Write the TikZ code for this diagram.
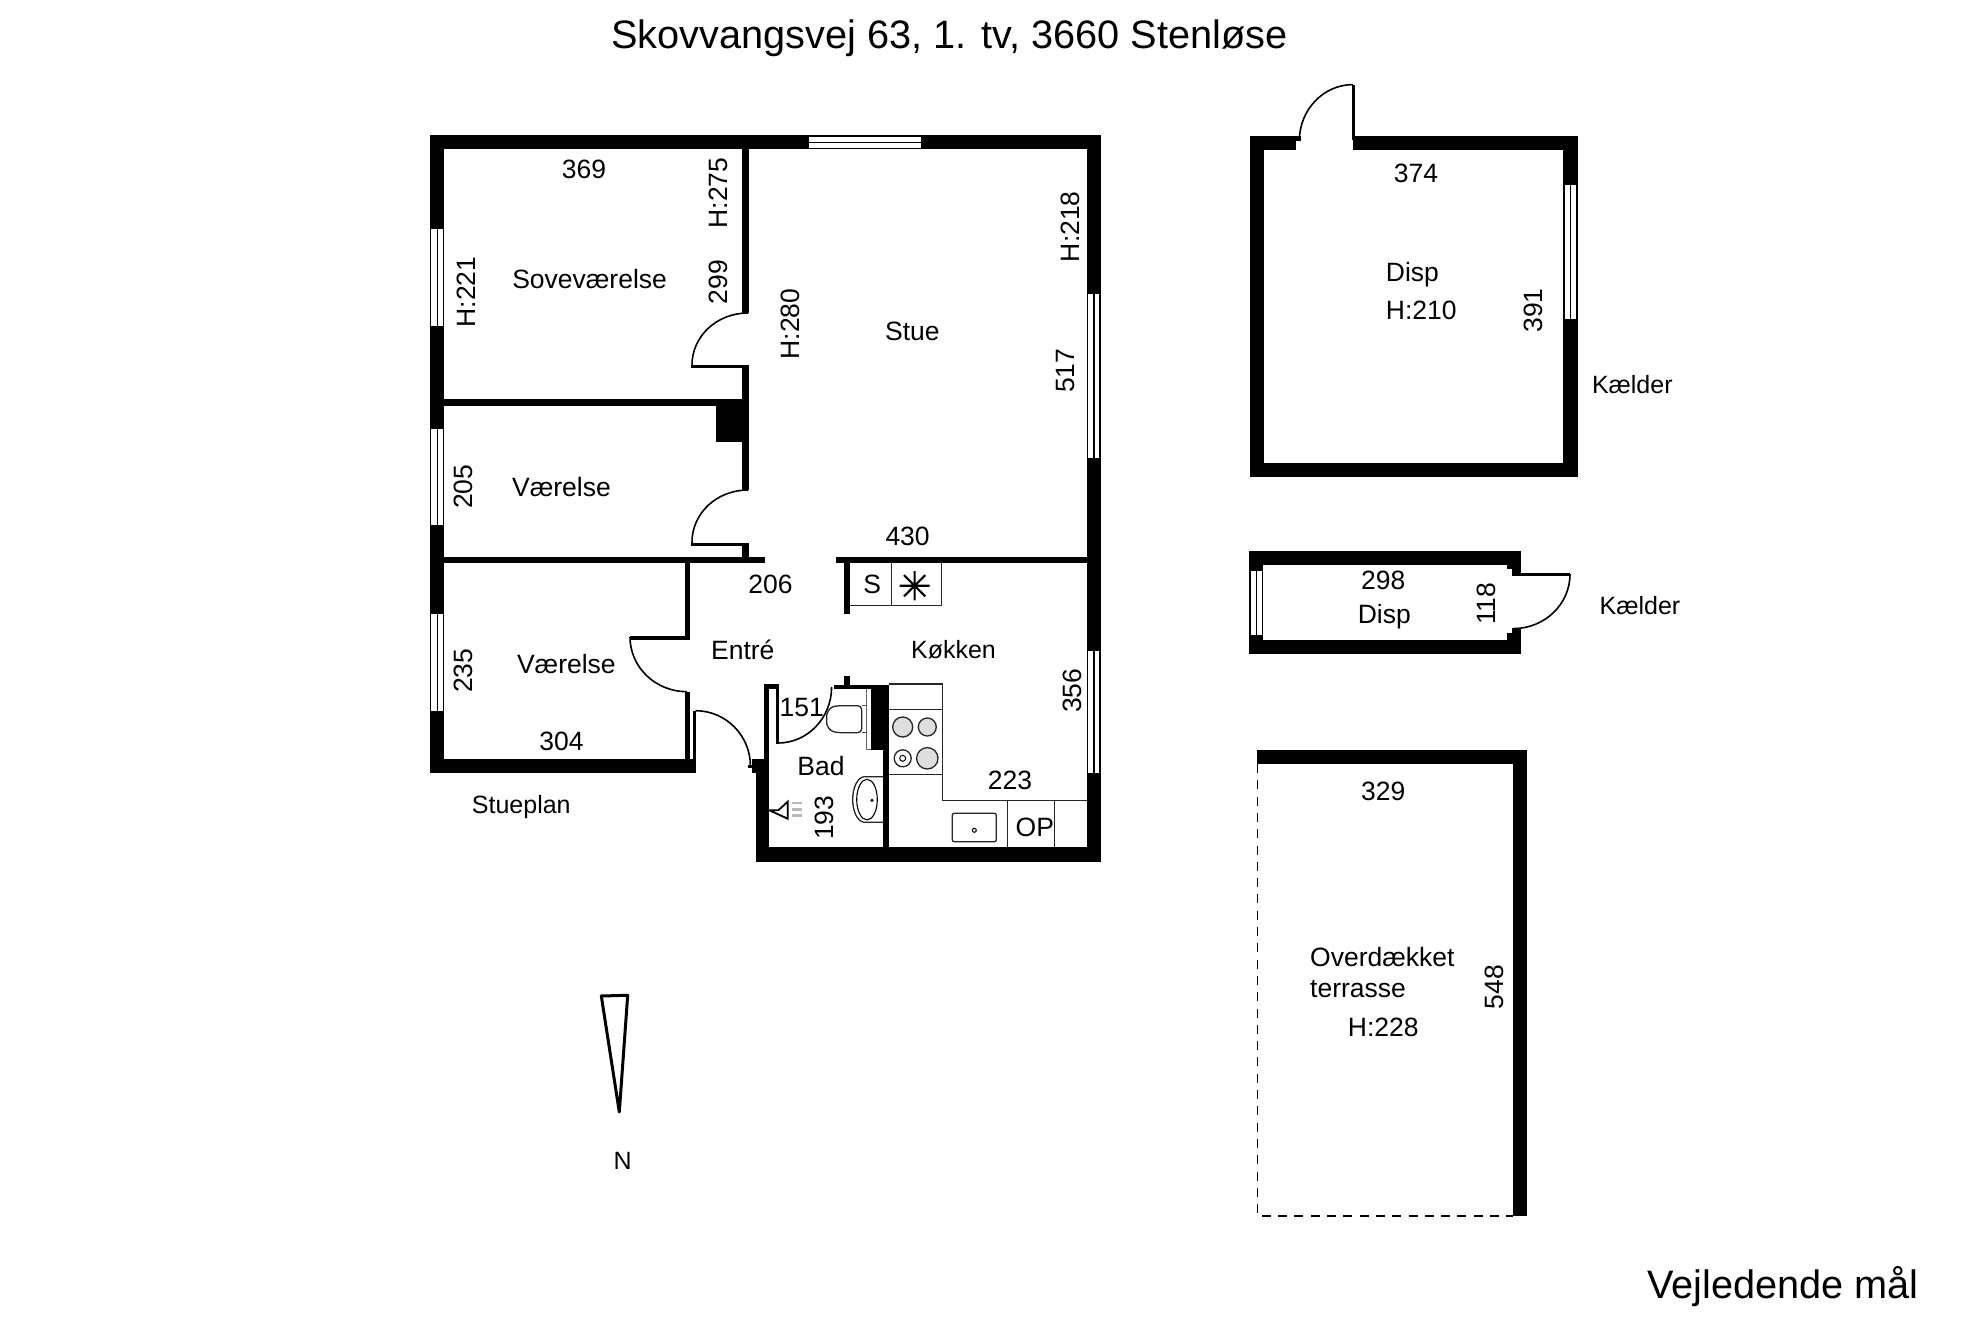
\documentclass[tikz,border=0pt]{standalone}
\usepackage{fontspec}
\setmainfont{Liberation Sans}
\usetikzlibrary{calc}
\newcommand{\wl}[4]{\fill[black] (#1,#2) rectangle (#3,#4);}
\newcommand{\winH}[4]{\fill[white] (#1,#2) rectangle (#3,#4);
  \draw[winline] (#1,#2) -- (#3,#2) (#1,{(#2+#4)/2}) -- (#3,{(#2+#4)/2}) (#1,#4) -- (#3,#4);}
\newcommand{\winV}[4]{\fill[white] (#1,#2) rectangle (#3,#4);
  \draw[winline] (#1,#2) -- (#1,#4) ({(#1+#3)/2},#2) -- ({(#1+#3)/2},#4) (#3,#2) -- (#3,#4);}
% door swing: from A to B, with the corner C between the tangents
\newcommand{\swing}[6]{\draw[doorline] (#1,#2) .. controls ($(#1,#2)!0.5523!(#3,#4)$) and ($(#5,#6)!0.5523!(#3,#4)$) .. (#5,#6);}
\tikzset{
  x=1pt,y=-1pt,
  winline/.style={line width=1.2pt,black},
  doorline/.style={line width=1.6pt,black},
  fix/.style={line width=1.3pt,black!85},
  lbl/.style={inner sep=0pt,font=\fontsize{26.5}{30}\selectfont},
  lblS/.style={inner sep=0pt,font=\fontsize{25}{30}\selectfont},
  big/.style={inner sep=0pt,font=\fontsize{39.7}{44}\selectfont},
  rt/.style={rotate=90}
}
\begin{document}
\begin{tikzpicture}
\useasboundingbox (0,0) rectangle (1982,1321);
\fill[white] (0,0) rectangle (1982,1321);

% ---- main flat: outer walls
\wl{429.8}{135}{1101}{149.5}
\wl{429.8}{135}{444.1}{773}
\wl{429.8}{759}{695.4}{773}
\wl{1087}{135}{1101}{861.7}
\wl{755.7}{847.3}{1101}{861.7}
\wl{755.7}{772}{769.3}{861.7}
\wl{752.3}{759}{769.3}{772.7}
\wl{748.3}{765}{753}{768.3}
% windows
\winH{809.3}{136.5}{921.3}{148.5}
\winV{430.8}{229}{443.5}{326}
\winV{430.8}{428.7}{443.5}{525}
\winV{430.8}{614.3}{443.5}{711}
\winV{1087.8}{294}{1100}{458}
\winV{1087.8}{651}{1100}{773.3}

% ---- partitions
\wl{742.3}{149}{748.6}{313}
\wl{691}{365.5}{748.6}{368.5}
\wl{742.3}{365.5}{748.6}{400}
\wl{444}{399.3}{748.6}{405.7}
\wl{716.4}{405}{748.6}{442}
\wl{742.3}{442}{748.6}{490}
\wl{691}{542.5}{748.6}{545.5}
\wl{742.3}{545}{748.6}{557}
\wl{444}{556.7}{765}{562.7}
\wl{835.6}{556.7}{1087}{562.7}
\wl{684.7}{562}{690}{639}
\wl{629.8}{636}{690}{639.5}
\wl{684.7}{691.7}{690}{760}
\wl{686.5}{691.7}{690}{694}
\wl{693.2}{710.7}{695.9}{773}
\wl{844}{562}{849.5}{614}
% bath walls
\wl{764}{684}{769.3}{760}
\wl{764}{684}{777.5}{689}
\wl{775.8}{684}{779.4}{743.5}
\wl{834.3}{684.5}{889}{689}
\wl{844}{675.7}{849.5}{685}
\wl{870.7}{684.5}{889}{749.5}
\wl{883}{749}{889}{848}
% door swings
\swing{748}{313}{691}{313}{692}{366}
\swing{748}{490}{691}{490}{692}{543}
\swing{630}{637}{630}{691.7}{687}{691.7}
\swing{695.5}{710.7}{750.4}{710.7}{750.4}{766}
\swing{778}{743}{831.6}{743}{831.6}{687}

% ---- fixtures: kitchen upper
\draw[fix] (849.5,605.7) -- (941.4,605.7) -- (941.4,562);
\draw[fix] (891.4,562) -- (891.4,605.7);
\node[lbl] (sTxt) at (872.2,584.3) {S};
\draw[line width=2.2pt] (899.6,585.7) -- (929.6,585.7) (914.6,571) -- (914.6,600.4)
  (904,575.1) -- (925.2,596.3) (904,596.3) -- (925.2,575.1);
% kitchen lower
\draw[fix] (889,684) -- (942.7,684) -- (942.7,800.7) -- (1087,800.7);
\draw[fix] (889,709.3) -- (942.7,709.3) (889,774.3) -- (942.7,774.3);
\draw[fix] (1007.7,800.7) -- (1007.7,847.3) (1054.7,800.7) -- (1054.7,847.3);
\draw[fix,rounded corners=2pt] (952.3,813.3) rectangle (996.3,841.7);
\draw[line width=1pt] (974.3,830.3) circle[radius=2];
\draw[fix,fill=black!13] (902.7,727) circle[radius=10];
\draw[fix,fill=black!13] (927.3,727) circle[radius=9];
\draw[fix] (902.7,758.3) circle[radius=8.5];
\draw[line width=1pt] (902.7,758.3) circle[radius=3];
\draw[fix,fill=black!13] (927.3,758.3) circle[radius=10.7];
% toilet
\draw[line width=1pt,black!60] (866,689) -- (866,749.5) -- (871,749.5);
\draw[line width=1pt,black!70] (861.7,705.7) -- (866,705.7) (861.7,732.7) -- (866,732.7);
\draw[fix,rounded corners=4pt] (861.7,705.7) -- (838,705.7) .. controls (830,707) and (826.7,713) .. (826.7,719.2) .. controls (826.7,726) and (830,731) .. (838,732.7) -- (861.7,732.7) -- cycle;
% washbasin
\draw[fix] (883,776.7) -- (864,776.7) .. controls (857,778) and (852.7,788) .. (852.7,799.5) .. controls (852.7,811) and (857,821) .. (864,822.3) -- (883,822.3);
\draw[line width=1.1pt] (867,799.6) ellipse[x radius=10.3,y radius=20.3];
\draw[line width=.8pt] (872,800.3) circle[radius=1.2];
% shower
\draw[line width=1.8pt] (769.3,810.3) -- (778.3,810.3) -- (787.7,801.7) -- (787.7,818.7) -- cycle;
\draw[line width=2.6pt,black!28] (791.7,803) -- (801.7,803) (791.7,809.3) -- (801.7,809.3) (791.7,815.3) -- (801.7,815.3);

% ---- main flat labels
\node[lbl] (n369) at (584,169) {369};
\node[lbl,rt] (hA) at (718,193) {H:275};
\node[lbl,rt] (n299) at (718,282) {299};
\node[lbl,rt] (hB) at (466,292) {H:221};
\node[lbl] (sove) at (589.6,279) {Soveværelse};
\node[lbl,rt] (hC) at (790.6,324) {H:280};
\node[lbl] (stue) at (912.4,331.7) {Stue};
\node[lbl,rt] (hD) at (1070.5,226.7) {H:218};
\node[lbl,rt] (n517) at (1066,370.7) {517};
\node[lbl,rt] (n205) at (463.3,486.7) {205};
\node[lbl] (vaer1) at (561.5,487.3) {Værelse};
\node[lbl] (n430) at (907.6,536) {430};
\node[lbl] (n206) at (770.4,584.3) {206};
\node[lbl] (entre) at (742.8,650) {Entré};
\node[lblS] (kok) at (953.5,650) {Køkken};
\node[lbl] (vaer2) at (566.4,664.3) {Værelse};
\node[lbl,rt] (n235) at (463.3,670.7) {235};
\node[lbl] (n151) at (801.7,707.3) {151};
\node[lbl,rt] (n356) at (1072.7,690.7) {356};
\node[lbl] (n304) at (561.5,741) {304};
\node[lbl] (bad) at (821,766) {Bad};
\node[lbl] (n223) at (1010,780) {223};
\node[lbl,rt] (n193) at (824.3,817.7) {193};
\node[lbl] (op) at (1034.8,827.7) {OP};
\node[lblS] (stueplan) at (521.3,807.2) {Stueplan};

% ---- cellar room 1
\wl{1250}{136}{1296}{149.7}
\wl{1296}{136}{1300.7}{141}
\wl{1353.3}{136}{1577.7}{149.7}
\wl{1250}{136}{1264}{476.9}
\wl{1250}{462.7}{1577.7}{476.9}
\wl{1563.3}{136}{1577.7}{476.9}
\wl{1351.7}{84.6}{1354.5}{140}
\winV{1564}{185}{1577}{319}
\swing{1353}{84.6}{1299.3}{84.6}{1299.3}{141}
\node[lbl] (n374) at (1416,173.4) {374};
\node[lbl,anchor=west] (dispA) at (1385.7,274.5) {Disp};
\node[lbl,anchor=west] (hE) at (1385.7,310) {H:210};
\node[lbl,rt] (n391) at (1533.3,310.6) {391};
\node[lblS] (kaelderA) at (1632.3,385) {Kælder};

% ---- cellar room 2
\wl{1249.3}{550.8}{1520.7}{565.4}
\wl{1249.3}{639.7}{1520.7}{654.3}
\wl{1249.3}{550.8}{1263.3}{654.3}
\wl{1506.7}{550.8}{1520.7}{569}
\wl{1511.7}{550.8}{1520.7}{575.5}
\wl{1506.7}{633}{1520.7}{654.3}
\wl{1511.7}{627.5}{1520.7}{654.3}
\winV{1250.3}{570.8}{1262.8}{635}
\wl{1511.7}{573}{1570}{575.5}
\swing{1570}{574.2}{1570}{628.6}{1513.3}{628.6}
\node[lbl] (n298) at (1383.3,580.7) {298};
\node[lbl] (dispB) at (1384.3,616.3) {Disp};
\node[lbl,rt] (n118) at (1486.7,603.7) {118};
\node[lblS] (kaelderB) at (1640,605.6) {Kælder};

% ---- terrace
\wl{1256.7}{750}{1526.7}{764.3}
\wl{1512.7}{750}{1526.7}{1216}
\draw[line width=1.7pt,dash pattern=on 9pt off 7.3pt] (1257.4,764) -- (1257.4,1216) -- (1512.7,1216);
\node[lbl] (n329) at (1383.3,791.7) {329};
\node[lbl,anchor=west] (over) at (1310,956.7) {Overdækket};
\node[lbl,anchor=west] (terr) at (1310,989) {terrasse};
\node[lbl] (hF) at (1383.3,1027.3) {H:228};
\node[lbl,rt] (n548) at (1494.3,987.3) {548};

% ---- north arrow, title, note
\draw[line width=3pt,line join=round] (601.3,996) -- (627.7,995.3) -- (619.3,1112) -- cycle;
\node[lblS] (north) at (622.7,1161) {N};
\node[big] (title) at (949.3,38.5) {Skovvangsvej 63, 1. tv, 3660 Stenløse};
\node[big] (note) at (1783,1286.5) {Vejledende mål};
\end{tikzpicture}
\end{document}
